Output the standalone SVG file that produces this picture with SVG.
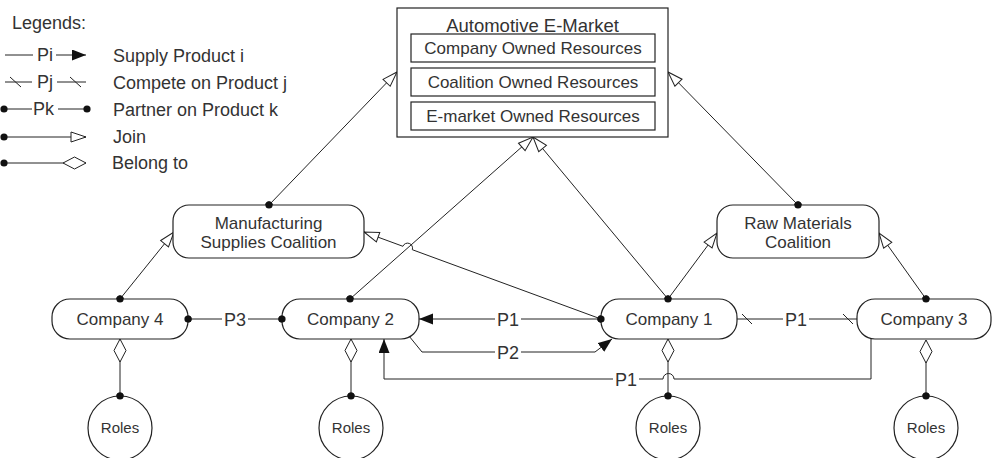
<svg xmlns="http://www.w3.org/2000/svg" width="994" height="458" viewBox="0 0 994 458">
<style>
  text { font-family: "Liberation Sans", Arial, sans-serif; fill: #333; }
  .ln { fill: none; stroke: #222; stroke-width: 1; }
  .box { fill: #fff; stroke: #222; stroke-width: 1.2; }
  .lg { font-size: 18px; }
  .nd { font-size: 17px; text-anchor: middle; }
  .pl { font-size: 18px; text-anchor: middle; }
  .rl { font-size: 15px; text-anchor: middle; }
  .bg { fill: #fff; stroke: none; }
  .dot { fill: #111; }
</style>
<defs>
  <marker id="fa" markerUnits="userSpaceOnUse" markerWidth="16" markerHeight="12" refX="14" refY="5.5" orient="auto">
    <path d="M0,0 L14,5.5 L0,11 z" fill="#111"/>
  </marker>
  <marker id="ot" markerUnits="userSpaceOnUse" markerWidth="18" markerHeight="14" refX="16" refY="6" orient="auto">
    <path d="M1,1 L16,6 L1,11 z" fill="#fff" stroke="#222" stroke-width="1"/>
  </marker>
  <marker id="od" markerUnits="userSpaceOnUse" markerWidth="26" markerHeight="16" refX="24" refY="7" orient="auto">
    <path d="M1,7 L12.5,1 L24,7 L12.5,13 z" fill="#fff" stroke="#222" stroke-width="1"/>
  </marker>
  <marker id="dt" markerUnits="userSpaceOnUse" markerWidth="10" markerHeight="10" refX="5" refY="5" orient="auto">
    <circle cx="5" cy="5" r="3.6" fill="#111"/>
  </marker>
</defs>

<g id="legend">
  <text class="lg" x="12" y="29">Legends:</text>
  <line class="ln" x1="5" y1="55" x2="33" y2="55"/>
  <text class="lg" x="37" y="61">Pi</text>
  <line class="ln" x1="56" y1="55" x2="86" y2="55" marker-end="url(#fa)"/>
  <text class="lg" x="113" y="62">Supply Product i</text>

  <line class="ln" x1="5" y1="82" x2="32" y2="82"/>
  <line class="ln" x1="10" y1="77" x2="21" y2="87"/>
  <text class="lg" x="37" y="88">Pj</text>
  <line class="ln" x1="57" y1="82" x2="86" y2="82"/>
  <line class="ln" x1="70" y1="77" x2="81" y2="87"/>
  <text class="lg" x="113" y="89">Compete on Product j</text>

  <line class="ln" x1="4" y1="109" x2="32" y2="109" marker-start="url(#dt)"/>
  <text class="lg" x="33" y="115">Pk</text>
  <line class="ln" x1="58" y1="109" x2="87" y2="109" marker-end="url(#dt)"/>
  <text class="lg" x="113" y="116">Partner on Product k</text>

  <line class="ln" x1="4" y1="137" x2="86" y2="137" marker-start="url(#dt)" marker-end="url(#ot)"/>
  <text class="lg" x="113" y="143">Join</text>

  <line class="ln" x1="4" y1="163" x2="86" y2="163" marker-start="url(#dt)" marker-end="url(#od)"/>
  <text class="lg" x="112" y="169">Belong to</text>
</g>

<g id="connectors">
  <!-- Join connectors -->
  <line class="ln" x1="269" y1="205" x2="397" y2="72" marker-start="url(#dt)" marker-end="url(#ot)"/>
  <line class="ln" x1="798" y1="205" x2="668" y2="72" marker-start="url(#dt)" marker-end="url(#ot)"/>
  <line class="ln" x1="350" y1="299" x2="533" y2="137" marker-start="url(#dt)" marker-end="url(#ot)"/>
  <line class="ln" x1="668" y1="299" x2="533" y2="137" marker-start="url(#dt)" marker-end="url(#ot)"/>
  <line class="ln" x1="668" y1="299" x2="717" y2="233" marker-end="url(#ot)"/>
  <line class="ln" x1="926" y1="299" x2="879" y2="233" marker-start="url(#dt)" marker-end="url(#ot)"/>
  <line class="ln" x1="120" y1="299" x2="174" y2="232" marker-start="url(#dt)" marker-end="url(#ot)"/>
  <path class="ln" d="M601,319 L412.3,249.7 A5,5 0 0 0 402.9,246.3 L364,232" marker-start="url(#dt)" marker-end="url(#ot)"/>

  <!-- P3 partner -->
  <line class="ln" x1="188" y1="319" x2="282" y2="319" marker-start="url(#dt)" marker-end="url(#dt)"/>
  <rect class="bg" x="222" y="309" width="26" height="20"/>
  <text class="pl" x="235" y="325.5">P3</text>

  <!-- P1 supply Company1 -> Company2 -->
  <line class="ln" x1="601" y1="319" x2="419" y2="319" marker-end="url(#fa)"/>
  <rect class="bg" x="495" y="309" width="26" height="20"/>
  <text class="pl" x="508" y="325.5">P1</text>

  <!-- P2 supply Company2 -> Company1 -->
  <path class="ln" d="M409,336 L422,352 L595,352 L612,339" marker-end="url(#fa)"/>
  <rect class="bg" x="495" y="342" width="26" height="20"/>
  <text class="pl" x="508" y="358.5">P2</text>

  <!-- P1 supply Company3 -> Company2 -->
  <path class="ln" d="M871,339 L871,379 L674,379 A5.5,5.5 0 0 0 663,379 L384,379 L384,339" marker-end="url(#fa)"/>
  <rect class="bg" x="613" y="369" width="26" height="20"/>
  <text class="pl" x="626" y="385.5">P1</text>

  <!-- P1 compete Company1 - Company3 -->
  <line class="ln" x1="737" y1="319" x2="857" y2="319"/>
  <line class="ln" x1="742" y1="314" x2="752" y2="324"/>
  <line class="ln" x1="843" y1="314" x2="853" y2="324"/>
  <rect class="bg" x="783" y="309" width="26" height="20"/>
  <text class="pl" x="796" y="325.5">P1</text>

  <!-- Belong to -->
  <line class="ln" x1="120" y1="396" x2="120" y2="339" marker-start="url(#dt)" marker-end="url(#od)"/>
  <line class="ln" x1="351" y1="396" x2="351" y2="339" marker-start="url(#dt)" marker-end="url(#od)"/>
  <line class="ln" x1="668" y1="396" x2="668" y2="339" marker-start="url(#dt)" marker-end="url(#od)"/>
  <line class="ln" x1="926" y1="396" x2="926" y2="340" marker-start="url(#dt)" marker-end="url(#od)"/>
</g>

<g id="emarket">
  <rect class="box" x="397" y="8" width="271" height="129"/>
  <text x="532.5" y="31.5" style="font-size:18.5px;text-anchor:middle">Automotive E-Market</text>
</g>
<g id="company-owned">
  <rect class="box" x="411" y="34" width="244" height="28"/>
  <text class="nd" x="533" y="54">Company Owned Resources</text>
</g>
<g id="coalition-owned">
  <rect class="box" x="411" y="68" width="244" height="28"/>
  <text class="nd" x="533" y="88">Coalition Owned Resources</text>
</g>
<g id="emarket-owned">
  <rect class="box" x="411" y="102" width="244" height="28"/>
  <text class="nd" x="533" y="122">E-market Owned Resources</text>
</g>

<g id="manufacturing">
  <rect class="box" x="173" y="205" width="191" height="53" rx="16"/>
  <text class="nd" x="268.5" y="229">Manufacturing</text>
  <text class="nd" x="268.5" y="248">Supplies Coalition</text>
</g>
<g id="rawmaterials">
  <rect class="box" x="717" y="205" width="162" height="53" rx="16"/>
  <text class="nd" x="798" y="229">Raw Materials</text>
  <text class="nd" x="798" y="248">Coalition</text>
</g>

<g id="company4">
  <rect class="box" x="52" y="299" width="136" height="40" rx="18"/>
  <text class="nd" x="120" y="325">Company 4</text>
</g>
<g id="company2">
  <rect class="box" x="282" y="299" width="137" height="40" rx="18"/>
  <text class="nd" x="350.5" y="325">Company 2</text>
</g>
<g id="company1">
  <rect class="box" x="601" y="299" width="136" height="40" rx="18"/>
  <text class="nd" x="669" y="325">Company 1</text>
</g>
<g id="company3">
  <rect class="box" x="857" y="299" width="134" height="40" rx="18"/>
  <text class="nd" x="924" y="325">Company 3</text>
</g>

<!-- redraw dots on top of boxes -->
<g id="dots">
  <circle class="dot" cx="269" cy="205" r="3.6"/>
  <circle class="dot" cx="798" cy="205" r="3.6"/>
  <circle class="dot" cx="120" cy="299" r="3.6"/>
  <circle class="dot" cx="350" cy="299" r="3.6"/>
  <circle class="dot" cx="668" cy="299" r="3.6"/>
  <circle class="dot" cx="926" cy="299" r="3.6"/>
  <circle class="dot" cx="601" cy="319" r="3.6"/>
  <circle class="dot" cx="188" cy="319" r="3.6"/>
  <circle class="dot" cx="282" cy="319" r="3.6"/>
</g>

<g id="roles4">
  <circle class="box" cx="120" cy="428" r="32"/>
  <text class="rl" x="120" y="433">Roles</text>
</g>
<g id="roles2">
  <circle class="box" cx="351" cy="428" r="32"/>
  <text class="rl" x="351" y="433">Roles</text>
</g>
<g id="roles1">
  <circle class="box" cx="668" cy="428" r="32"/>
  <text class="rl" x="668" y="433">Roles</text>
</g>
<g id="roles3">
  <circle class="box" cx="926" cy="428" r="32"/>
  <text class="rl" x="926" y="433">Roles</text>
</g>
<g id="roledots">
  <circle class="dot" cx="120" cy="396" r="3.6"/>
  <circle class="dot" cx="351" cy="396" r="3.6"/>
  <circle class="dot" cx="668" cy="396" r="3.6"/>
  <circle class="dot" cx="926" cy="396" r="3.6"/>
</g>
</svg>
